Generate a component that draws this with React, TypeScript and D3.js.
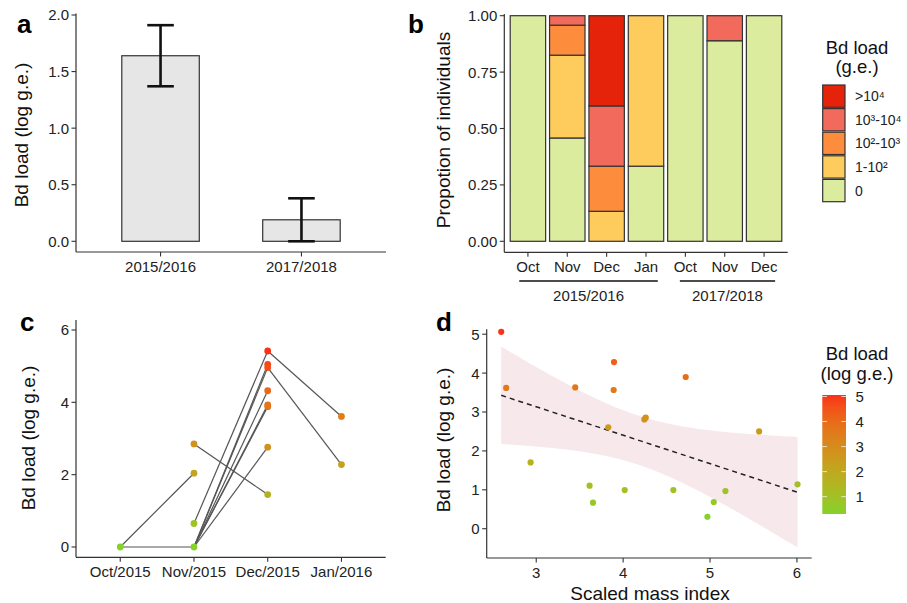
import React from "react";
import * as d3 from "d3";

const FONT = "'Liberation Sans', Arial, Helvetica, sans-serif";
const AXIS = "#333333";
const TXT = "#222222";

// ---------- Panel a ----------
const aSeasons = ["2015/2016", "2017/2018"];
const aMeans = [1.64, 0.19];
const aLower = [1.37, 0.0];
const aUpper = [1.91, 0.38];
const aTicks = [0, 0.5, 1.0, 1.5, 2.0];

// ---------- Panel b ----------
const bMonths = ["Oct", "Nov", "Dec", "Jan", "Oct", "Nov", "Dec"];
const bClasses = ["0", "1-10²", "10²-10³", "10³-10⁴", ">10⁴"];
const bColors = ["#DCEC9E", "#FECC5C", "#FD8D3C", "#F26A5B", "#E5220A"];
const bP0 = [1, 0.458, 0, 0.333, 1, 0.889, 1];
const bP1 = [0, 0.367, 0.133, 0.667, 0, 0, 0];
const bP2 = [0, 0.133, 0.2, 0, 0, 0, 0];
const bP3 = [0, 0.042, 0.267, 0, 0, 0.111, 0];
const bP4 = [0, 0, 0.4, 0, 0, 0, 0];
const bTicks = [0, 0.25, 0.5, 0.75, 1.0];
const bSeasonLabels = ["2015/2016", "2017/2018"];
const bSeasonSpans = [[-0.22, 3.3], [3.86, 6.28]];

// ---------- Panel c ----------
const cMonths = ["Oct/2015", "Nov/2015", "Dec/2015", "Jan/2016"];
const cOct = [0];
const cNov = [2.85, 2.04, 0.65, 0];
const cDec = [5.42, 5.05, 4.96, 4.32, 3.93, 3.88, 2.76, 1.45];
const cJan = [3.61, 2.28];
const cLinks = [
  [0, 0, 1, 2.04],
  [0, 0, 1, 0],
  [1, 2.85, 2, 1.45],
  [1, 0.65, 2, 5.42],
  [1, 0, 2, 5.05],
  [1, 0, 2, 4.96],
  [1, 0, 2, 4.32],
  [1, 0, 2, 3.93],
  [1, 0, 2, 3.88],
  [1, 0, 2, 2.76],
  [2, 5.42, 3, 3.61],
  [2, 4.96, 3, 2.28],
];
const cTicks = [0, 2, 4, 6];

// ---------- Panel d ----------
const dX = [2.597, 2.654, 2.935, 3.449, 3.614, 3.653, 3.829, 3.891, 3.895, 4.018, 4.244, 4.26, 4.578, 4.72, 4.97, 5.043, 5.177, 5.565, 6.007];
const dY = [5.06, 3.62, 1.705, 3.633, 1.105, 0.668, 2.605, 3.565, 4.284, 0.994, 2.81, 2.853, 0.994, 3.9, 0.308, 0.686, 0.968, 2.502, 1.14];
const dXTicks = [3, 4, 5, 6];
const dYTicks = [0, 1, 2, 3, 4, 5];
const dLegendTicks = [1, 2, 3, 4, 5];
const T_CRIT = 2.1098; // t quantile, 0.975, df = n - 2 = 17

const LOW = "#86D12A";
const HIGH = "#FA3219";

function YAxis({ x, y0, y1, scale, ticks, fmt }: any) {
  return (
    <g>
      <line x1={x} x2={x} y1={y0} y2={y1} stroke={AXIS} strokeWidth={1.2} />
      {ticks.map((t: number) => (
        <g key={t}>
          <line x1={x - 4.5} x2={x} y1={scale(t)} y2={scale(t)} stroke={AXIS} strokeWidth={1.1} />
          <text x={x - 7} y={scale(t)} dy="0.36em" textAnchor="end" fontSize={15} fill={TXT} fontFamily={FONT}>
            {fmt(t)}
          </text>
        </g>
      ))}
    </g>
  );
}

function XAxis({ y, x0, x1, positions, labels }: any) {
  return (
    <g>
      <line x1={x0} x2={x1} y1={y} y2={y} stroke={AXIS} strokeWidth={1.2} />
      {positions.map((p: number, i: number) => (
        <g key={i}>
          <line x1={p} x2={p} y1={y} y2={y + 4.5} stroke={AXIS} strokeWidth={1.1} />
          <text x={p} y={y + 19.5} textAnchor="middle" fontSize={15} fill={TXT} fontFamily={FONT}>
            {labels[i]}
          </text>
        </g>
      ))}
    </g>
  );
}

function YTitle({ x, y, text }: any) {
  return (
    <text transform={`translate(${x},${y}) rotate(-90)`} textAnchor="middle" dy="0.35em" fontSize={19} fill="#111" fontFamily={FONT}>
      {text}
    </text>
  );
}

function PanelLabel({ x, y, t }: any) {
  return (
    <text x={x} y={y} fontSize={26} fontWeight="bold" fill="#000" fontFamily={FONT}>
      {t}
    </text>
  );
}

export default function App() {
  // ---- a ----
  const aY = d3.scaleLinear().domain([0, 2]).range([241.3, 15]);
  const aXunit = (386 - 76) / 2.2;
  const aX = (i: number) => 76 + (i + 0.6) * aXunit;
  const aBarW = 0.55 * aXunit;

  // ---- b ----
  const bY = d3.scaleLinear().domain([0, 1]).range([241.3, 15.7]);
  const bUnit = (787.7 - 504.3) / 7.2;
  const bX = (i: number) => 504.3 + (i + 0.6) * bUnit;
  const bBarW = 0.9 * bUnit;
  const bRows = bMonths.map((_, i) => ({ i, c0: bP0[i], c1: bP1[i], c2: bP2[i], c3: bP3[i], c4: bP4[i] }));
  const stack = d3.stack<any>().keys(["c0", "c1", "c2", "c3", "c4"])(bRows);

  // ---- c ----
  const cY = d3.scaleLinear().domain([0, 6]).range([547, 330]);
  const cUnit = (385.7 - 76) / 4.2;
  const cX = (i: number) => 76 + (i + 0.6) * cUnit;
  const cAll = [cOct, cNov, cDec, cJan];
  const cColor = d3
    .scaleLinear<string>()
    .domain([0, d3.max(cAll.flat()) as number])
    .range([LOW, HIGH])
    .interpolate(d3.interpolateLab);

  // ---- d ----
  const dXs = d3.scaleLinear().domain([2.43, 6.17]).range([486.7, 811.7]);
  const dYs = d3.scaleLinear().domain([-0.753, 5.126]).range([558, 329.3]);
  const [yMin, yMax] = d3.extent(dY) as [number, number];
  const dColor = d3.scaleLinear<string>().domain([yMin, yMax]).range([LOW, HIGH]).interpolate(d3.interpolateLab);
  const n = dX.length;
  const mx = d3.mean(dX) as number;
  const my = d3.mean(dY) as number;
  const sxx = d3.sum(dX, (x) => (x - mx) ** 2);
  const sxy = d3.sum(dX.map((x, i) => (x - mx) * (dY[i] - my)));
  const slope = sxy / sxx;
  const icpt = my - slope * mx;
  const sse = d3.sum(dX.map((x, i) => (dY[i] - (icpt + slope * x)) ** 2));
  const se = Math.sqrt(sse / (n - 2));
  const [xMin, xMax] = d3.extent(dX) as [number, number];
  const grid = d3.range(0, 81).map((k) => xMin + ((xMax - xMin) * k) / 80);
  const band = grid.map((x) => {
    const fit = icpt + slope * x;
    const hw = T_CRIT * se * Math.sqrt(1 / n + (x - mx) ** 2 / sxx);
    return { x, lo: fit - hw, hi: fit + hw };
  });
  const area = d3
    .area<any>()
    .x((d) => dXs(d.x))
    .y0((d) => dYs(d.lo))
    .y1((d) => dYs(d.hi));
  const legY = d3.scaleLinear().domain([yMin, yMax]).range([514, 395]);
  const gradStops = d3.range(0, 11).map((k) => yMin + ((yMax - yMin) * k) / 10);

  return (
    <svg width={907} height={603} style={{ position: "absolute", left: 0, top: 0, background: "#fff" }}>
      <defs>
        <linearGradient id="cbar" x1="0" y1="1" x2="0" y2="0">
          {gradStops.map((v, k) => (
            <stop key={k} offset={`${k * 10}%`} stopColor={dColor(v)} />
          ))}
        </linearGradient>
      </defs>
      <rect x={0} y={0} width={907} height={603} fill="#fff" />

      {/* ================= Panel a ================= */}
      <PanelLabel x={17} y={33} t="a" />
      {aMeans.map((m, i) => (
        <rect key={i} x={aX(i) - aBarW / 2} y={aY(m)} width={aBarW} height={aY(0) - aY(m)} fill="#E6E6E6" stroke={AXIS} strokeWidth={1.2} />
      ))}
      {aMeans.map((_, i) => (
        <g key={i} stroke="#111" strokeWidth={2.6}>
          <line x1={aX(i)} x2={aX(i)} y1={aY(aLower[i])} y2={aY(aUpper[i])} />
          <line x1={aX(i) - 13.3} x2={aX(i) + 13.3} y1={aY(aLower[i])} y2={aY(aLower[i])} />
          <line x1={aX(i) - 13.3} x2={aX(i) + 13.3} y1={aY(aUpper[i])} y2={aY(aUpper[i])} />
        </g>
      ))}
      <YAxis x={76} y0={13.5} y1={252} scale={aY} ticks={aTicks} fmt={(t: number) => t.toFixed(1)} />
      <XAxis y={252} x0={76} x1={386} positions={aSeasons.map((_, i) => aX(i))} labels={aSeasons} />
      <YTitle x={21.5} y={135} text="Bd load (log g.e.)" />

      {/* ================= Panel b ================= */}
      <PanelLabel x={408} y={33} t="b" />
      {stack.map((layer, k) =>
        layer.map((seg: any, i: number) =>
          seg[1] - seg[0] > 0 ? (
            <rect key={`${k}-${i}`} x={bX(i) - bBarW / 2} y={bY(seg[1])} width={bBarW} height={bY(seg[0]) - bY(seg[1])} fill={bColors[k]} stroke={AXIS} strokeWidth={1.2} />
          ) : null
        )
      )}
      <YAxis x={504.3} y0={14} y1={252.3} scale={bY} ticks={bTicks} fmt={(t: number) => t.toFixed(2)} />
      <XAxis y={252.3} x0={504.3} x1={787.7} positions={bMonths.map((_, i) => bX(i))} labels={bMonths} />
      {bSeasonSpans.map((s, k) => (
        <g key={k}>
          <line x1={bX(s[0])} x2={bX(s[1])} y1={281} y2={281} stroke="#111" strokeWidth={1.5} />
          <text x={(bX(s[0]) + bX(s[1])) / 2} y={301} textAnchor="middle" fontSize={15} fill={TXT} fontFamily={FONT}>
            {bSeasonLabels[k]}
          </text>
        </g>
      ))}
      <YTitle x={443.5} y={130} text="Propotion of individuals" />
      <text x={857} y={54} textAnchor="middle" fontSize={18.5} fill="#111" fontFamily={FONT}>Bd load</text>
      <text x={857} y={73} textAnchor="middle" fontSize={18.5} fill="#111" fontFamily={FONT}>(g.e.)</text>
      {bClasses
        .slice()
        .reverse()
        .map((c, j) => {
          const k = bClasses.length - 1 - j;
          const top = 85 + j * 23.6;
          return (
            <g key={c}>
              <rect x={822.7} y={top} width={22.3} height={22.3} fill={bColors[k]} stroke={AXIS} strokeWidth={1.2} />
              <text x={855} y={top + 11.2} dy="0.36em" fontSize={14} fill={TXT} fontFamily={FONT}>
                {c}
              </text>
            </g>
          );
        })}

      {/* ================= Panel c ================= */}
      <PanelLabel x={20} y={331} t="c" />
      {cLinks.map((l, k) => (
        <line key={k} x1={cX(l[0])} y1={cY(l[1])} x2={cX(l[2])} y2={cY(l[3])} stroke="#555" strokeWidth={1.2} />
      ))}
      {cAll.map((vals, m) =>
        vals.map((v, j) => <circle key={`${m}-${j}`} cx={cX(m)} cy={cY(v)} r={3.4} fill={cColor(v)} />)
      )}
      <YAxis x={76} y0={320} y1={557.3} scale={cY} ticks={cTicks} fmt={(t: number) => String(t)} />
      <XAxis y={557.3} x0={76} x1={385.7} positions={cMonths.map((_, i) => cX(i))} labels={cMonths} />
      <YTitle x={28} y={438} text="Bd load (log g.e.)" />

      {/* ================= Panel d ================= */}
      <PanelLabel x={436} y={331} t="d" />
      <path d={area(band) as string} fill="#F7E8EB" />
      <line x1={dXs(xMin)} y1={dYs(icpt + slope * xMin)} x2={dXs(xMax)} y2={dYs(icpt + slope * xMax)} stroke="#222" strokeWidth={1.5} strokeDasharray="5 4" />
      {dX.map((x, i) => (
        <circle key={i} cx={dXs(x)} cy={dYs(dY[i])} r={3.1} fill={dColor(dY[i])} />
      ))}
      <YAxis x={486.7} y0={329.3} y1={558} scale={dYs} ticks={dYTicks} fmt={(t: number) => String(t)} />
      <XAxis y={558} x0={486.7} x1={811.7} positions={dXTicks.map((t) => dXs(t))} labels={dXTicks.map(String)} />
      <YTitle x={443.5} y={440} text="Bd load (log g.e.)" />
      <text x={650} y={600} textAnchor="middle" fontSize={19} fill="#111" fontFamily={FONT}>Scaled mass index</text>
      <text x={857} y={360} textAnchor="middle" fontSize={18.5} fill="#111" fontFamily={FONT}>Bd load</text>
      <text x={857} y={380} textAnchor="middle" fontSize={18.5} fill="#111" fontFamily={FONT}>(log g.e.)</text>
      <rect x={822.3} y={395} width={23.7} height={119} fill="url(#cbar)" />
      {dLegendTicks.map((t) => (
        <g key={t}>
          <line x1={822.3} x2={827} y1={legY(t)} y2={legY(t)} stroke="#fff" strokeOpacity={0.7} strokeWidth={1} />
          <line x1={841.3} x2={846} y1={legY(t)} y2={legY(t)} stroke="#fff" strokeOpacity={0.7} strokeWidth={1} />
          <text x={855.5} y={legY(t)} dy="0.36em" fontSize={15} fill={TXT} fontFamily={FONT}>
            {t}
          </text>
        </g>
      ))}
    </svg>
  );
}
